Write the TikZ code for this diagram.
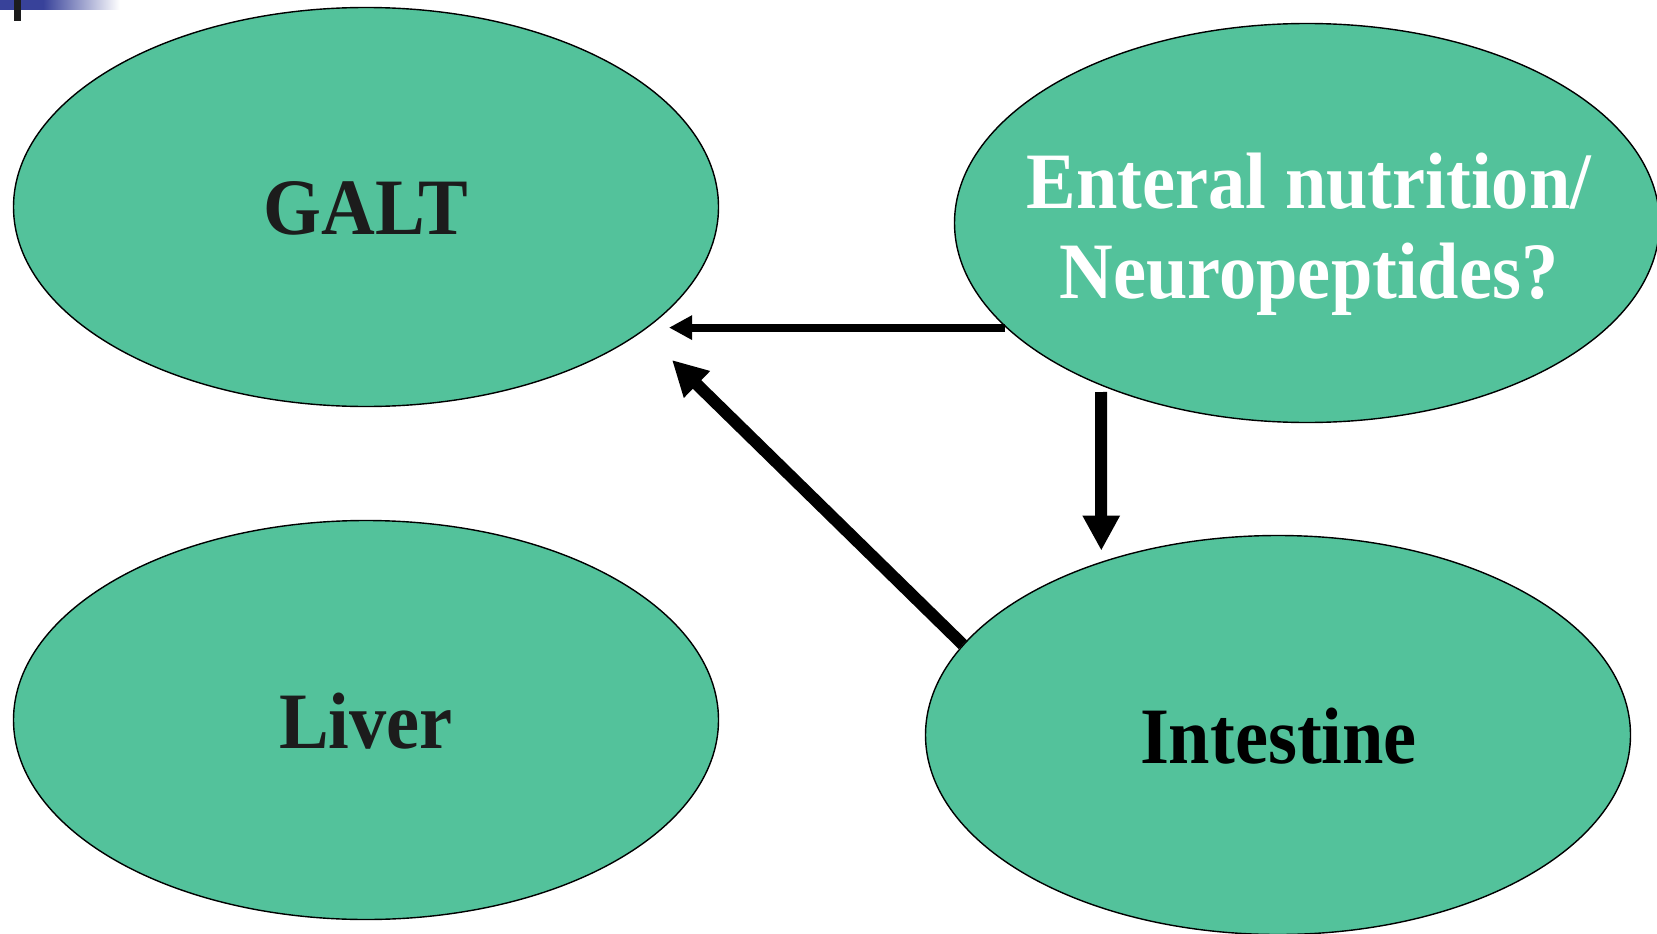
\documentclass[tikz,border=0pt]{standalone}
\usepackage{fontspec}
\setmainfont{Liberation Serif}[FakeStretch=0.93]
\usetikzlibrary{shapes.geometric,arrows.meta,calc}
\definecolor{blobfill}{RGB}{83,194,155}
\definecolor{barblue}{RGB}{56,66,154}
\definecolor{darktext}{RGB}{28,28,28}
\tikzset{
  blob/.style={ellipse, draw=black, line width=1.4pt, fill=blobfill, inner sep=0pt,
    minimum width=705pt, minimum height=399pt},
  lbl/.style={inner sep=0pt, align=center, font=\fontsize{80}{90}\selectfont\bfseries},
  arr/.style={line width=12pt, -{Triangle[length=35pt,width=35pt]}},
  thinarr/.style={line width=8pt, -{Triangle[length=23pt,width=23pt]}}
}
\begin{document}
\begin{tikzpicture}[x=1pt,y=-1pt]
\useasboundingbox (0,0) rectangle (1657,934);
\clip (0,0) rectangle (1657,934);
\fill[white] (0,0) rectangle (1657,934);
% top-left decoration
\fill[barblue] (0,0) rectangle (44,10);
\shade[left color=barblue, right color=white] (43,0) rectangle (120,10);
\fill[darktext] (14,0) rectangle (21,21);
% ellipses
\node[blob] (galt) at (366,207) {};
\node[blob] (liver) at (366,720) {};
\node[blob] (ent) at (1307,223) {};
\node[blob] (int) at (1278,735) {};
% labels
\node[lbl, text=darktext, anchor=base] (galtl) at (366,234.6) {GALT};
\node[lbl, text=darktext, anchor=base] (liverl) at (366,748) {Liver};
\node[lbl, text=white] (entl) at (1309,234) {Enteral nutrition/\\Neuropeptides?};
\node[lbl, text=black, anchor=base] (intl) at (1278.5,763) {Intestine};
% connectors
\draw[thinarr] ($(ent.center)+(-302,104.6)$) -- ($(galt.center)+(303,120.6)$);
\draw[arr] (int.164.6) -- ($(galt.center)+(306,153)$);
\draw[arr] ($(ent.center)+(-206,169)$) -- ($(int.center)+(-176.7,-184.4)$);
\end{tikzpicture}
\end{document}
